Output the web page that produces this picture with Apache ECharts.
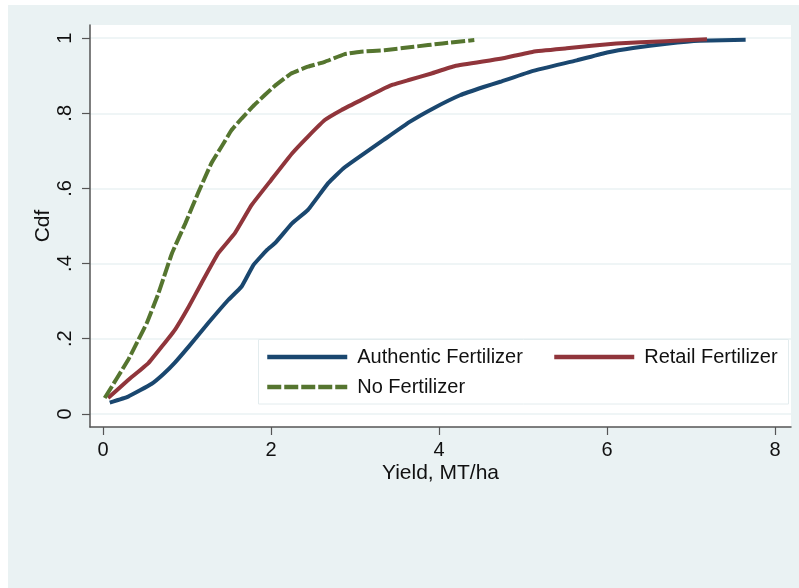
<!DOCTYPE html>
<html>
<head>
<meta charset="utf-8">
<script src="https://cdn.jsdelivr.net/npm/echarts@6/dist/echarts.min.js"></script>
<style>html,body{margin:0;padding:0;background:#fff}#c{width:799px;height:588px}</style>
</head>
<body>
<div id="c"></div>
<script>
// ---- data ----
const seriesNames = ['Authentic Fertilizer', 'Retail Fertilizer', 'No Fertilizer'];

const authenticX = [0.08, 0.30, 0.58, 0.72, 0.85, 1.02, 1.25, 1.49, 1.65, 1.79, 1.95, 2.05, 2.25, 2.44, 2.68, 2.86, 3.00, 3.34, 3.65, 3.93, 4.25, 4.53, 4.73, 5.12, 5.64, 6.00, 6.31, 6.71, 7.10, 7.65];
const authenticY = [0.030, 0.046, 0.080, 0.106, 0.135, 0.179, 0.241, 0.303, 0.339, 0.396, 0.436, 0.455, 0.507, 0.543, 0.614, 0.653, 0.676, 0.729, 0.777, 0.813, 0.848, 0.870, 0.884, 0.913, 0.941, 0.962, 0.974, 0.985, 0.993, 0.996];

const retailX = [0.06, 0.30, 0.54, 0.70, 0.86, 1.02, 1.17, 1.37, 1.57, 1.77, 2.00, 2.25, 2.44, 2.64, 2.84, 3.07, 3.31, 3.45, 3.63, 3.91, 4.19, 4.73, 5.12, 5.52, 6.11, 6.69, 7.19];
const retailY = [0.042, 0.090, 0.135, 0.179, 0.225, 0.285, 0.347, 0.427, 0.481, 0.556, 0.622, 0.693, 0.738, 0.782, 0.809, 0.835, 0.862, 0.876, 0.888, 0.906, 0.926, 0.945, 0.964, 0.973, 0.986, 0.992, 0.997];

const noneX = [0.02, 0.30, 0.42, 0.52, 0.66, 0.82, 0.98, 1.13, 1.29, 1.41, 1.53, 1.65, 1.80, 2.04, 2.24, 2.44, 2.64, 2.87, 3.07, 3.35, 3.70, 4.04, 4.42];
const noneY = [0.042, 0.144, 0.197, 0.241, 0.321, 0.427, 0.507, 0.587, 0.667, 0.711, 0.755, 0.786, 0.822, 0.872, 0.906, 0.924, 0.937, 0.957, 0.964, 0.968, 0.977, 0.986, 0.995];

const xTicks = [0, 2, 4, 6, 8];
const yTicks = [0, 0.2, 0.4, 0.6, 0.8, 1];
const xTitle = 'Yield, MT/ha';
const yTitle = 'Cdf';

// ---- build ----
const pair = (xs, ys) => xs.map((x, i) => [x, ys[i]]);
const FONT = '"Liberation Sans", Arial, Helvetica, sans-serif';
const NAVY = '#1A476F', MAROON = '#90353B', GREEN = '#55752F', BG = '#EAF2F3';
const AX = '#555';

const chart = echarts.init(document.getElementById('c'), null, {renderer: 'canvas'});

const legendBase = {
  orient: 'horizontal', itemWidth: 80, itemHeight: 20, padding: 0,
  itemStyle: {opacity: 0, borderWidth: 0},
  lineStyle: {width: 4.5, cap: 'butt'},
  textStyle: {fontFamily: FONT, fontSize: 20, color: '#111', padding: [0, 0, 0, 5]},
  selectedMode: false
};

chart.setOption({
  animation: false,
  backgroundColor: '#fff',
  textStyle: {fontFamily: FONT},
  graphic: [
    {type: 'rect', z: -10, silent: true, shape: {x: 8, y: 5, width: 791, height: 583}, style: {fill: BG}},
    {type: 'rect', z: 3, silent: true, shape: {x: 258.5, y: 339.5, width: 530, height: 64.5}, style: {fill: '#fff', stroke: '#E3ECEE', lineWidth: 1}}
  ],
  grid: {left: 90, right: 8, top: 25, bottom: 161, show: true, backgroundColor: '#fff', borderWidth: 0},
  legend: [
    Object.assign({}, legendBase, {data: [seriesNames[0]], left: 265, top: 347}),
    Object.assign({}, legendBase, {data: [seriesNames[1]], left: 552, top: 347}),
    Object.assign({}, legendBase, {data: [seriesNames[2]], left: 265, top: 377})
  ],
  xAxis: {
    type: 'value', min: -0.155, max: 8.19,
    name: xTitle, nameLocation: 'middle', nameGap: 36, nameMoveOverlap: false,
    nameTextStyle: {fontFamily: FONT, fontSize: 21, color: '#111'},
    axisLine: {show: true, onZero: false, lineStyle: {color: AX, width: 1.5}},
    axisTick: {show: true, length: 8, customValues: xTicks, lineStyle: {color: AX, width: 1.2}},
    axisLabel: {customValues: xTicks, margin: 13, fontFamily: FONT, fontSize: 20, color: '#111'},
    splitLine: {show: false}
  },
  yAxis: {
    type: 'value', min: -0.035, max: 1.035,
    name: yTitle, nameLocation: 'middle', nameGap: 36, nameRotate: 90, nameMoveOverlap: false,
    nameTextStyle: {fontFamily: FONT, fontSize: 21, color: '#111'},
    axisLine: {show: true, onZero: false, lineStyle: {color: AX, width: 1.5}},
    axisTick: {show: true, length: 8, customValues: yTicks, lineStyle: {color: AX, width: 1.2}},
    axisLabel: {
      customValues: yTicks, margin: 15, rotate: 90, fontFamily: FONT, fontSize: 20, color: '#111',
      formatter: v => (v === 0 ? '0' : v === 1 ? '1' : String(+v.toFixed(1)).replace(/^0/, ''))
    },
    splitLine: {show: true, lineStyle: {color: BG, width: 1.5}}
  },
  series: [
    {name: seriesNames[0], type: 'line', data: pair(authenticX, authenticY), showSymbol: false, symbol: 'none',
     smooth: 0.1, lineStyle: {color: NAVY, width: 4, join: 'round'}, itemStyle: {color: NAVY}, z: 2},
    {name: seriesNames[1], type: 'line', data: pair(retailX, retailY), showSymbol: false, symbol: 'none',
     smooth: 0.1, lineStyle: {color: MAROON, width: 4, join: 'round'}, itemStyle: {color: MAROON}, z: 2},
    {name: seriesNames[2], type: 'line', data: pair(noneX, noneY), showSymbol: false, symbol: 'none',
     smooth: 0.1, lineStyle: {color: GREEN, width: 4, type: [14, 3], cap: 'butt', join: 'round'}, itemStyle: {color: GREEN}, z: 2}
  ]
});
</script>
</body>
</html>
